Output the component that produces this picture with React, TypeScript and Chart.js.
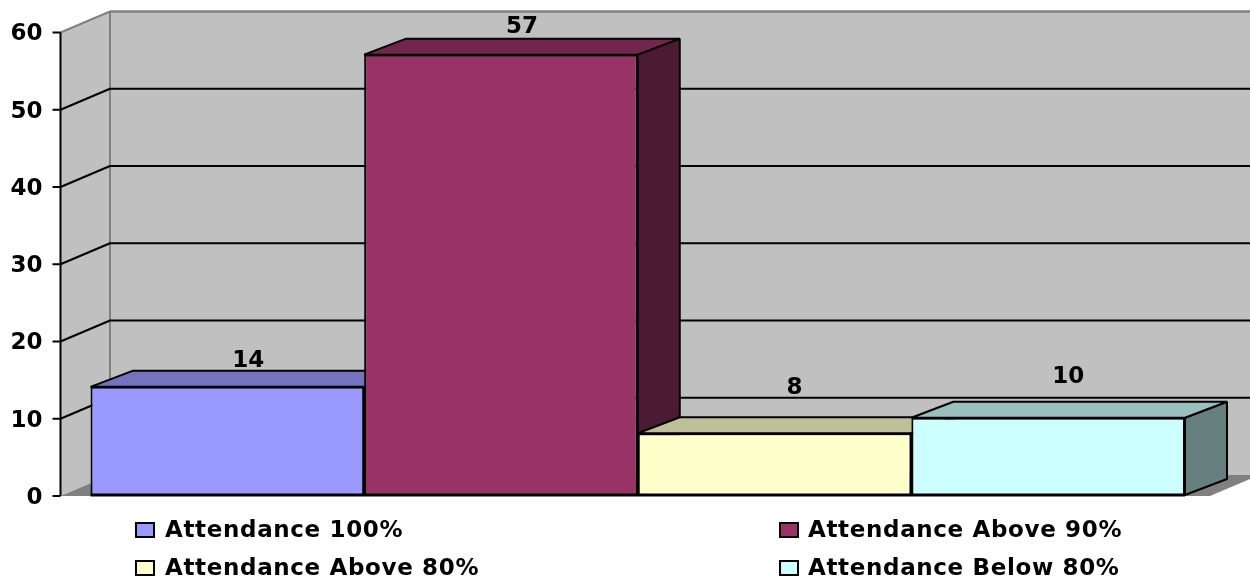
import React, { useEffect, useRef } from "react";
import { Chart, registerables } from "chart.js";

Chart.register(...registerables);

const categories = ["Attendance"];
const seriesNames = ["Attendance 100%", "Attendance Above 90%", "Attendance Above 80%", "Attendance Below 80%"];
const seriesValues = [14, 57, 8, 10];
const seriesColors = ["#9999FF", "#993366", "#FFFFCC", "#CCFFFF"];
const yTicks = [0, 10, 20, 30, 40, 50, 60];

const FONT = '"DejaVu Sans", Verdana, sans-serif';
const shade = (hex: string, f: number) => {
  const n = parseInt(hex.slice(1), 16);
  const c = [(n >> 16) & 255, (n >> 8) & 255, n & 255].map((v) => Math.round(v * f));
  return `rgb(${c[0]},${c[1]},${c[2]})`;
};

const poly = (ctx: CanvasRenderingContext2D, pts: number[][], fill?: string, stroke?: string, w = 2) => {
  ctx.beginPath();
  pts.forEach((p, i) => (i ? ctx.lineTo(p[0], p[1]) : ctx.moveTo(p[0], p[1])));
  ctx.closePath();
  if (fill) { ctx.fillStyle = fill; ctx.fill(); }
  if (stroke) { ctx.strokeStyle = stroke; ctx.lineWidth = w; ctx.lineJoin = "bevel"; ctx.stroke(); }
};
const line = (ctx: CanvasRenderingContext2D, x1: number, y1: number, x2: number, y2: number, color: string, w: number) => {
  ctx.beginPath(); ctx.moveTo(x1, y1); ctx.lineTo(x2, y2);
  ctx.strokeStyle = color; ctx.lineWidth = w; ctx.stroke();
};

// depth of the walls, depth of the bars, and the axis-mark offset from the bar plane
const WALL = { dx: 49.5, dy: -21 };
const BAR = { dx: 42, dy: -16 };
const AXIS_DY = 1;
const labelShift = [[21, -26], [21, -28], [20, -45], [20, -41]];
const legendSlots = [[136, 523, 165], [780, 523, 808], [136, 561, 165], [780, 561, 808]];

const threeD = {
  id: "threeD",
  beforeDatasetsDraw(chart: any) {
    const { ctx, scales: { y }, chartArea: a } = chart;
    const x0 = a.left;
    const xFrontR = 1210;
    const y0 = y.getPixelForValue(0) + AXIS_DY;
    const yTop = y.getPixelForValue(60) + AXIS_DY;
    ctx.save();
    // walls and floor
    poly(ctx, [[x0, yTop], [x0 + WALL.dx, yTop + WALL.dy], [x0 + WALL.dx, y0 + WALL.dy], [x0, y0]], "#C0C0C0");
    ctx.fillStyle = "#C0C0C0";
    ctx.fillRect(x0 + WALL.dx, yTop + WALL.dy, 1250, y0 - yTop);
    poly(ctx, [[x0, y0], [xFrontR, y0], [xFrontR + WALL.dx, y0 + WALL.dy], [x0 + WALL.dx, y0 + WALL.dy]], "#808080");
    // wall edges
    line(ctx, x0, yTop, x0 + WALL.dx, yTop + WALL.dy, "#808080", 2);
    line(ctx, x0 + WALL.dx, yTop + WALL.dy, 1250, yTop + WALL.dy, "#808080", 2.5);
    line(ctx, x0 + WALL.dx, yTop + WALL.dy, x0 + WALL.dx, y0 + WALL.dy, "#808080", 2);
    // gridlines and tick marks
    yTicks.forEach((v) => {
      const p = y.getPixelForValue(v) + AXIS_DY;
      line(ctx, x0 - 8, p, x0, p, "#000", 2);
      if (v > 0 && v < 60) {
        ctx.beginPath();
        ctx.moveTo(x0, p);
        ctx.lineTo(x0 + WALL.dx, p + WALL.dy);
        ctx.lineTo(1250, p + WALL.dy);
        ctx.strokeStyle = "#000"; ctx.lineWidth = 2; ctx.lineJoin = "bevel"; ctx.stroke();
      }
    });
    line(ctx, x0, yTop, x0, y0, "#000", 2);
    // bar sides and tops, left to right
    seriesValues.forEach((_, i) => {
      const el = chart.getDatasetMeta(i).data[0];
      const half = el.width / 2;
      const l = el.x - half, r = el.x + half, t = el.y, b = el.base;
      const c = seriesColors[i];
      poly(ctx, [[r, t], [r + BAR.dx, t + BAR.dy], [r + BAR.dx, b + BAR.dy], [r, b]], shade(c, 0.5), "#000");
      poly(ctx, [[l, t], [l + BAR.dx, t + BAR.dy], [r + BAR.dx, t + BAR.dy], [r, t]], shade(c, 0.75), "#000");
    });
    ctx.restore();
  },
  afterDatasetsDraw(chart: any) {
    const { ctx, scales: { y } } = chart;
    ctx.save();
    const first = chart.getDatasetMeta(0).data[0];
    const last = chart.getDatasetMeta(seriesValues.length - 1).data[0];
    line(ctx, first.x - first.width / 2, y.getPixelForValue(0), last.x + last.width / 2, y.getPixelForValue(0), "#000", 3);
    // data labels
    ctx.fillStyle = "#000";
    ctx.font = `bold 23px ${FONT}`;
    ctx.textAlign = "center";
    ctx.textBaseline = "middle";
    seriesValues.forEach((v, i) => {
      const el = chart.getDatasetMeta(i).data[0];
      ctx.fillText(String(v), el.x + labelShift[i][0], el.y + labelShift[i][1]);
    });
    // legend
    ctx.textAlign = "left";
    (ctx as any).letterSpacing = "0.65px";
    seriesNames.forEach((name, i) => {
      const [sx, sy, tx] = legendSlots[i];
      ctx.fillStyle = seriesColors[i];
      ctx.fillRect(sx, sy, 18, 14);
      ctx.strokeStyle = "#000"; ctx.lineWidth = 2;
      ctx.strokeRect(sx, sy, 18, 14);
      ctx.fillStyle = "#000";
      ctx.fillText(name, tx, sy + 8.5);
    });
    ctx.restore();
  },
};

export default function App() {
  const ref = useRef<HTMLCanvasElement>(null);
  useEffect(() => {
    const chart = new Chart(ref.current!, {
      type: "bar",
      data: {
        labels: categories,
        datasets: seriesNames.map((label, i) => ({
          label,
          data: [seriesValues[i]],
          backgroundColor: seriesColors[i],
          borderColor: "#000",
          borderWidth: 2,
          barPercentage: 1,
          categoryPercentage: 0.948,
        })),
      },
      options: {
        responsive: false,
        animation: false,
        layout: { padding: { top: 31.5, bottom: 85, right: 35, left: 0 } },
        plugins: { legend: { display: false }, tooltip: { enabled: false }, title: { display: false } },
        scales: {
          x: { display: false },
          y: {
            min: 0,
            max: 60,
            afterFit: (s: any) => { s.width = 60.5; },
            afterBuildTicks: (s: any) => { s.ticks = yTicks.map((value) => ({ value })); },
            grid: { display: false },
            border: { display: false },
            ticks: {
              color: "#000",
              font: { family: FONT, size: 23, weight: "bold" },
              padding: 10,
              labelOffset: 3,
            },
          },
        },
      },
      plugins: [threeD],
    } as any);
    return () => chart.destroy();
  }, []);
  return (
    <div style={{ position: "absolute", left: 0, top: 0, width: 1250, height: 580, background: "#fff" }}>
      <canvas ref={ref} width={1250} height={580} style={{ display: "block" }} />
    </div>
  );
}
